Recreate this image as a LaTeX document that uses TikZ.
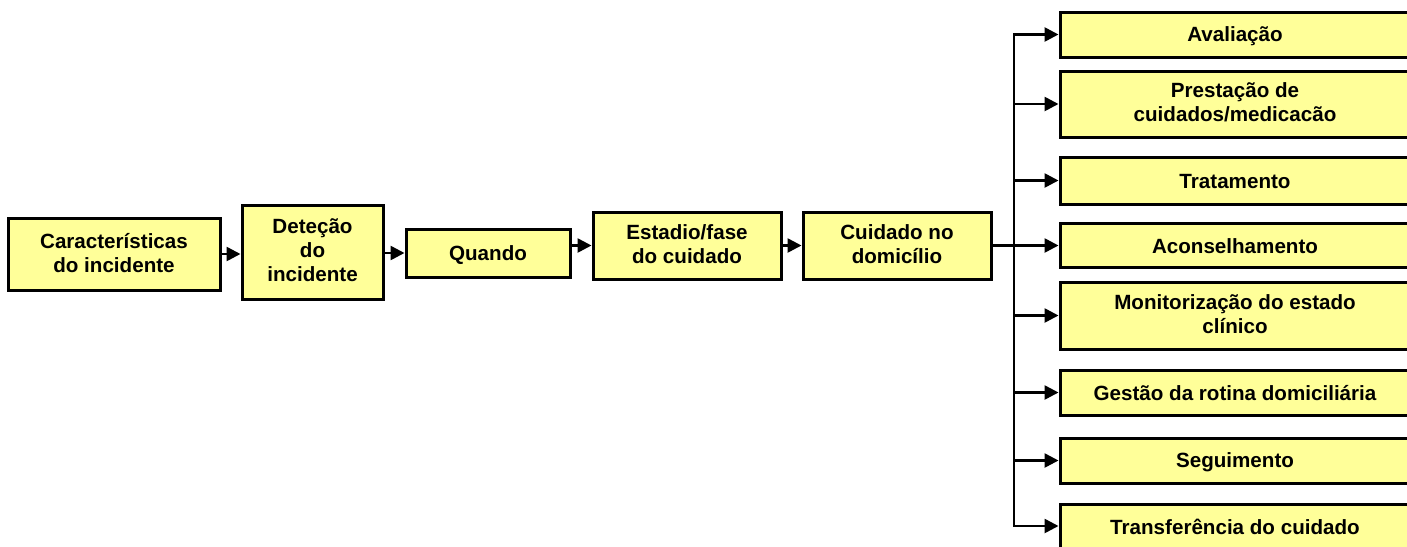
\documentclass[tikz,border=0pt]{standalone}
\usepackage{fontspec}
\setmainfont{Liberation Sans}
\usetikzlibrary{arrows.meta}
\definecolor{boxyellow}{RGB}{255,255,153}
\newcommand\boxstrut{\rule[-1.5pt]{0pt}{11pt}}
\tikzset{box/.style={draw,line width=1.5pt,fill=boxyellow,align=center,inner sep=0pt,font=\bfseries\fontsize{10.3}{12}\selectfont,
    execute at begin node=\boxstrut,execute at end node=\boxstrut},
  arr/.style={line width=1.3pt,-{Triangle[length=7pt,width=7pt]}}}
\begin{document}
\begin{tikzpicture}[x=.5pt,y=-.5pt]
\useasboundingbox (0,0) rectangle (1407,546);\clip (0,0) rectangle (1407,546);
% main row
\node[box,minimum width=106pt,minimum height=36pt] (carac) at (114,254){Características\\do incidente};
\node[box,minimum width=70.5pt,minimum height=47pt] (detec) at (312.5,252){Deteção\\do\\incidente};
\node[box,minimum width=82pt,minimum height=24pt] (quando) at (488,253){Quando};
\node[box,minimum width=94pt,minimum height=33.5pt] (estadio) at (687,245.5){Estadio/fase\\do cuidado};
\node[box,minimum width=94pt,minimum height=33.5pt] (domic) at (897,245.5){Cuidado no\\domicílio};
% right column
\node[box,minimum width=175pt,minimum height=22.5pt] (r1) at (1235,34.5){Avaliação};
\node[box,minimum width=175pt,minimum height=33pt] (r2) at (1235,104){Prestação de\\cuidados/medicacão};
\node[box,minimum width=175pt,minimum height=23.5pt] (r3) at (1235,180.5){Tratamento};
\node[box,minimum width=175pt,minimum height=22pt] (r4) at (1235,245.5){Aconselhamento};
\node[box,minimum width=175pt,minimum height=33.5pt] (r5) at (1235,315.5){Monitorização do estado\\clínico};
\node[box,minimum width=175pt,minimum height=22.5pt] (r6) at (1235,392.5){Gestão da rotina domiciliária};
\node[box,minimum width=175pt,minimum height=22.5pt] (r7) at (1235,460.5){Seguimento};
\node[box,minimum width=175pt,minimum height=22pt] (r8) at (1235,526){Transferência do cuidado};
% connectors
\draw[arr] (carac.east) -- (carac.east -| detec.west);
\draw[arr] (quando.west -| detec.east) -- (quando.west);
\draw[arr] (estadio.west -| quando.east) -- (estadio.west);
\draw[arr] (estadio.east) -- (domic.west);
\draw[arr] (domic.east) -- (r4.west);
\coordinate (bus) at (1014,245.5);
\draw[line width=1.3pt,line cap=rect] (bus |- r1.west) -- (bus |- r8.west);
\foreach \i in {1,2,3,5,6,7,8}\draw[arr] (bus |- r\i.west) -- (r\i.west);
\end{tikzpicture}
\end{document}
